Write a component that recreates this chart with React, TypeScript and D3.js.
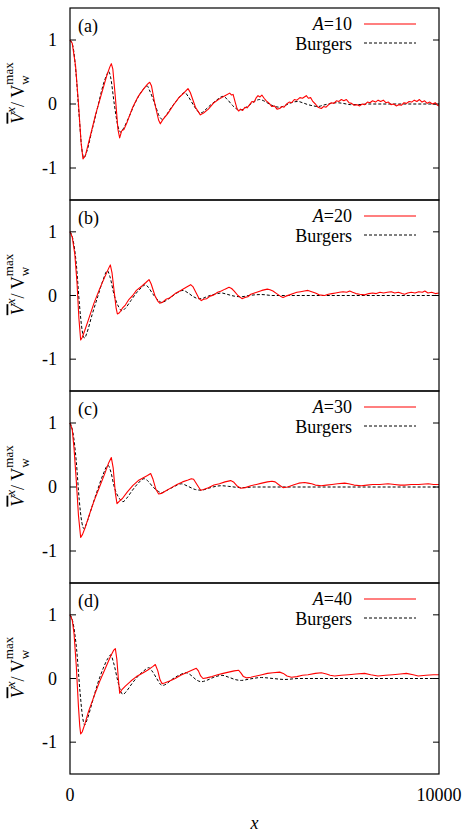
import React from "react";
import * as d3 from "d3";

type Pt = [number, number];

const panelLabels = ["(a)", "(b)", "(c)", "(d)"];
const aValues = [10, 20, 30, 40];
const yTicks = [-1, 0, 1];
const xTicks = [0, 10000];

// A=10 simulation (red) and Burgers solution (dashed)
const redA: Pt[] = [
  [0, 1.0], [60, 0.95], [150, 0.6], [230, 0.0], [300, -0.6], [352, -0.86], [420, -0.8],
  [550, -0.5], [700, -0.15], [850, 0.15], [1000, 0.45], [1080, 0.58], [1120, 0.63],
  [1160, 0.55], [1230, 0.1], [1300, -0.4], [1346, -0.53], [1400, -0.42], [1460, -0.4],
  [1550, -0.28], [1700, -0.05], [1850, 0.12], [2000, 0.24], [2100, 0.31], [2160, 0.34],
  [2210, 0.28], [2300, 0.0], [2400, -0.25], [2448, -0.31], [2520, -0.24], [2650, -0.15],
  [2800, -0.02], [2950, 0.1], [3100, 0.18], [3198, 0.24], [3260, 0.18], [3400, -0.05],
  [3532, -0.17], [3620, -0.14], [3750, -0.08], [3900, 0.02], [4050, 0.08], [4200, 0.13],
  [4327, 0.17], [4380, 0.14], [4420, 0.15], [4480, 0.02], [4530, -0.08], [4571, -0.11],
  [4620, -0.08], [4680, -0.1], [4740, -0.05], [4800, -0.06], [4870, -0.01], [4930, 0.04],
  [4990, 0.03], [5050, 0.1], [5095, 0.13], [5150, 0.11], [5200, 0.14], [5260, 0.09],
  [5320, 0.05], [5400, 0.01], [5470, -0.04], [5540, -0.03], [5610, -0.08], [5683, -0.07],
  [5740, -0.04], [5800, -0.05], [5870, 0.0], [5940, 0.03], [6010, 0.02], [6080, 0.07],
  [6150, 0.06], [6230, 0.1], [6300, 0.09], [6404, 0.13], [6460, 0.09], [6520, 0.1],
  [6580, 0.04], [6650, 0.0], [6720, -0.05], [6811, -0.07], [6870, -0.04], [6940, -0.05],
  [7010, -0.01], [7080, 0.02], [7150, 0.01], [7220, 0.05], [7290, 0.04], [7353, 0.07],
  [7420, 0.05], [7490, 0.07], [7560, 0.02], [7630, 0.01], [7700, -0.02], [7780, -0.01],
  [7850, -0.03], [7920, 0.0], [7990, -0.01], [8060, 0.03], [8130, 0.02], [8200, 0.05],
  [8280, 0.03], [8350, 0.06], [8420, 0.04], [8490, 0.06], [8560, 0.02], [8630, 0.03],
  [8700, -0.01], [8770, 0.0], [8840, -0.03], [8910, -0.01], [8980, -0.02], [9050, 0.02],
  [9120, 0.01], [9190, 0.04], [9260, 0.03], [9330, 0.06], [9400, 0.04], [9470, 0.07],
  [9540, 0.03], [9610, 0.05], [9680, 0.01], [9750, 0.03], [9820, 0.0], [9900, 0.02],
  [9960, -0.02], [10000, -0.03],
];
const burgersA: Pt[] = [
  [0, 1.0], [80, 0.9], [160, 0.5], [250, -0.2], [320, -0.7], [379, -0.84], [450, -0.75],
  [600, -0.4], [750, -0.05], [900, 0.3], [1000, 0.46], [1048, 0.51], [1100, 0.42],
  [1200, 0.0], [1300, -0.35], [1373, -0.44], [1450, -0.38], [1600, -0.2], [1750, 0.0],
  [1900, 0.16], [2000, 0.24], [2096, 0.28], [2150, 0.22], [2300, 0.0], [2420, -0.19],
  [2502, -0.24], [2600, -0.18], [2750, -0.05], [2900, 0.06], [3000, 0.13], [3108, 0.18],
  [3200, 0.12], [3350, -0.02], [3470, -0.12], [3550, -0.14], [3650, -0.1], [3800, -0.02],
  [3950, 0.05], [4146, 0.12], [4250, 0.08], [4400, -0.02], [4530, -0.08], [4643, -0.09],
  [4750, -0.06], [4900, 0.0], [5000, 0.04], [5140, 0.07], [5250, 0.05], [5400, 0.0],
  [5550, -0.04], [5683, -0.05], [5800, -0.03], [5950, 0.01], [6050, 0.03], [6179, 0.04],
  [6300, 0.02], [6450, -0.01], [6600, -0.03], [6721, -0.04], [6850, -0.02], [7000, 0.0],
  [7217, 0.02], [7400, 0.01], [7600, -0.01], [7804, -0.01], [8100, 0.0], [10000, 0.0],
];

const redB: Pt[] = [
  [0, 1.0], [60, 0.92], [130, 0.65], [190, 0.2], [240, -0.35], [289, -0.7], [330, -0.66],
  [400, -0.55], [500, -0.38], [650, -0.12], [800, 0.1], [950, 0.3], [1050, 0.43],
  [1093, 0.48], [1140, 0.35], [1200, 0.05], [1250, -0.2], [1283, -0.29], [1340, -0.27],
  [1420, -0.2], [1500, -0.15], [1600, -0.06], [1700, 0.0], [1800, 0.08], [1950, 0.15],
  [2050, 0.2], [2141, 0.25], [2200, 0.18], [2300, 0.0], [2380, -0.09], [2430, -0.12],
  [2500, -0.11], [2600, -0.06], [2700, -0.04], [2850, 0.03], [3000, 0.08], [3150, 0.13],
  [3270, 0.17], [3330, 0.14], [3420, 0.04], [3500, -0.05], [3559, -0.08], [3620, -0.06],
  [3700, -0.05], [3800, -0.01], [3900, 0.01], [4000, 0.05], [4100, 0.07], [4200, 0.1],
  [4309, 0.13], [4380, 0.11], [4450, 0.07], [4550, 0.0], [4661, -0.05], [4740, -0.03],
  [4820, -0.02], [4900, 0.02], [5000, 0.04], [5100, 0.06], [5200, 0.08], [5348, 0.1],
  [5420, 0.09], [5500, 0.07], [5600, 0.03], [5700, -0.01], [5774, -0.03], [5850, -0.01],
  [5950, 0.01], [6050, 0.03], [6150, 0.05], [6250, 0.06], [6350, 0.07], [6450, 0.08],
  [6550, 0.06], [6650, 0.04], [6750, 0.01], [6901, 0.0], [7000, 0.02], [7100, 0.03],
  [7200, 0.04], [7300, 0.05], [7400, 0.06], [7500, 0.05], [7580, 0.07], [7660, 0.05],
  [7750, 0.03], [7850, 0.02], [7985, 0.01], [8100, 0.03], [8200, 0.04], [8300, 0.03],
  [8400, 0.05], [8500, 0.04], [8600, 0.05], [8708, 0.06], [8800, 0.04], [8900, 0.05],
  [9000, 0.03], [9070, 0.02], [9150, 0.04], [9250, 0.05], [9350, 0.04], [9450, 0.06],
  [9550, 0.05], [9617, 0.07], [9700, 0.04], [9800, 0.05], [9900, 0.03], [10000, 0.04],
];
const burgersB: Pt[] = [
  [0, 1.0], [80, 0.88], [170, 0.5], [250, -0.1], [330, -0.55], [397, -0.67], [450, -0.6],
  [600, -0.3], [750, -0.02], [900, 0.25], [1012, 0.39], [1080, 0.3], [1200, 0.0],
  [1320, -0.18], [1409, -0.24], [1500, -0.2], [1650, -0.08], [1800, 0.04], [1950, 0.13],
  [2042, 0.17], [2120, 0.13], [2250, 0.02], [2400, -0.08], [2493, -0.11], [2600, -0.08],
  [2750, -0.02], [2900, 0.04], [3062, 0.08], [3200, 0.04], [3350, -0.02], [3480, -0.05],
  [3559, -0.05], [3700, -0.02], [3850, 0.01], [4000, 0.03], [4101, 0.04], [4250, 0.02],
  [4450, -0.01], [4643, -0.02], [4850, 0.0], [5185, 0.015], [5500, 0.0], [10000, 0.0],
];

const redC: Pt[] = [
  [0, 1.0], [60, 0.9], [110, 0.6], [170, 0.1], [230, -0.45], [289, -0.79], [340, -0.74],
  [420, -0.62], [520, -0.44], [650, -0.22], [800, 0.0], [950, 0.22], [1050, 0.38],
  [1120, 0.46], [1170, 0.3], [1230, -0.1], [1274, -0.26], [1340, -0.22], [1420, -0.18],
  [1550, -0.08], [1700, 0.02], [1850, 0.1], [2000, 0.15], [2100, 0.18], [2186, 0.21],
  [2250, 0.12], [2330, -0.04], [2403, -0.11], [2480, -0.1], [2600, -0.06], [2750, -0.01],
  [2900, 0.04], [3050, 0.08], [3200, 0.11], [3288, 0.13], [3350, 0.12], [3440, 0.04],
  [3541, -0.05], [3620, -0.04], [3750, -0.01], [3900, 0.03], [4050, 0.05], [4200, 0.08],
  [4354, 0.1], [4430, 0.08], [4520, 0.02], [4625, -0.02], [4750, -0.01], [4900, 0.02],
  [5050, 0.04], [5200, 0.06], [5350, 0.08], [5474, 0.09], [5560, 0.08], [5650, 0.04],
  [5774, -0.01], [5900, 0.0], [6050, 0.03], [6200, 0.06], [6359, 0.07], [6450, 0.06],
  [6550, 0.05], [6650, 0.03], [6811, 0.02], [6950, 0.03], [7100, 0.04], [7250, 0.05],
  [7443, 0.06], [7550, 0.05], [7700, 0.03], [7894, 0.02], [8050, 0.03], [8200, 0.04],
  [8400, 0.04], [8618, 0.05], [8800, 0.04], [8950, 0.03], [9070, 0.03], [9250, 0.04],
  [9450, 0.04], [9707, 0.05], [9850, 0.04], [10000, 0.04],
];
const burgersC: Pt[] = [
  [0, 1.0], [80, 0.85], [170, 0.4], [250, -0.2], [320, -0.55], [379, -0.65], [440, -0.58],
  [600, -0.3], [750, -0.04], [900, 0.2], [1030, 0.34], [1100, 0.25], [1200, 0.0],
  [1340, -0.18], [1436, -0.23], [1530, -0.18], [1680, -0.06], [1850, 0.06], [2005, 0.13],
  [2100, 0.1], [2250, 0.0], [2400, -0.07], [2475, -0.09], [2600, -0.06], [2800, 0.0],
  [3017, 0.05], [3200, 0.01], [3400, -0.04], [3559, -0.05], [3750, -0.02], [3950, 0.01],
  [4101, 0.02], [4300, 0.01], [4643, -0.01], [5000, 0.0], [10000, 0.0],
];

const redD: Pt[] = [
  [0, 1.0], [60, 0.92], [110, 0.7], [170, 0.2], [230, -0.45], [265, -0.75], [289, -0.87],
  [330, -0.84], [400, -0.72], [500, -0.52], [650, -0.28], [800, -0.05], [950, 0.15],
  [1100, 0.35], [1180, 0.44], [1229, 0.47], [1270, 0.3], [1310, 0.0], [1346, -0.23],
  [1400, -0.18], [1500, -0.12], [1650, -0.04], [1800, 0.03], [1950, 0.08], [2100, 0.13],
  [2250, 0.19], [2312, 0.22], [2380, 0.12], [2440, -0.02], [2493, -0.08], [2560, -0.07],
  [2700, -0.04], [2850, 0.0], [3000, 0.05], [3150, 0.09], [3300, 0.13], [3423, 0.16],
  [3480, 0.12], [3540, 0.04], [3604, 0.0], [3700, 0.01], [3850, 0.03], [4000, 0.06],
  [4150, 0.08], [4300, 0.1], [4450, 0.12], [4571, 0.13], [4640, 0.08], [4700, 0.03],
  [4779, 0.01], [4900, 0.02], [5050, 0.04], [5200, 0.06], [5350, 0.08], [5500, 0.09],
  [5683, 0.1], [5780, 0.08], [5880, 0.04], [5999, 0.02], [6150, 0.03], [6300, 0.05],
  [6450, 0.06], [6650, 0.08], [6811, 0.09], [6950, 0.07], [7050, 0.05], [7172, 0.04],
  [7350, 0.05], [7550, 0.06], [7750, 0.07], [7985, 0.08], [8150, 0.06], [8347, 0.04],
  [8550, 0.05], [8750, 0.06], [8950, 0.07], [9115, 0.08], [9300, 0.06], [9436, 0.04],
  [9650, 0.05], [9850, 0.06], [10000, 0.06],
];
const burgersD: Pt[] = [
  [0, 1.0], [80, 0.88], [180, 0.45], [270, -0.2], [340, -0.6], [397, -0.73], [460, -0.65],
  [600, -0.38], [750, -0.08], [900, 0.16], [1020, 0.31], [1102, 0.37], [1180, 0.25],
  [1300, -0.05], [1380, -0.21], [1436, -0.25], [1530, -0.2], [1680, -0.08], [1850, 0.04],
  [2000, 0.12], [2132, 0.17], [2220, 0.12], [2350, 0.0], [2450, -0.09], [2493, -0.11],
  [2600, -0.09], [2750, -0.02], [2950, 0.05], [3153, 0.09], [3280, 0.05], [3420, -0.02],
  [3559, -0.05], [3700, -0.03], [3900, 0.02], [4120, 0.05], [4300, 0.02], [4500, -0.02],
  [4643, -0.03], [4850, -0.01], [5185, 0.015], [5500, 0.0], [5819, -0.015], [6200, 0.0],
  [10000, 0.0],
];

const redSeries = [redA, redB, redC, redD];
const burgersSeries = [burgersA, burgersB, burgersC, burgersD];

const FONT = "Liberation Serif, Times New Roman, DejaVu Serif, serif";

export default function App() {
  const width = 467, height = 833;
  const left = 70, right = 439, top = 8, bottom = 774;
  const ph = (bottom - top) / 4;
  const fs = 18;

  const x = d3.scaleLinear().domain([0, 10000]).range([left, right]);
  const tstyle = { fontFamily: FONT };

  return (
    <svg width={width} height={height} style={{ position: "absolute", left: 0, top: 0, background: "#fff", fontFamily: FONT }}>
      {panelLabels.map((lab, i) => {
        const y0 = Math.round(top + i * ph);
        const y1 = Math.round(top + (i + 1) * ph);
        const y = d3.scaleLinear().domain([-1.5, 1.5]).range([y1, y0]);
        const redLine = d3.line<Pt>().x(d => x(d[0])).y(d => y(d[1]));
        const burgersLine = d3.line<Pt>().x(d => x(d[0])).y(d => y(d[1])).curve(d3.curveMonotoneX);
        const cy = (y0 + y1) / 2 - 11;
        return (
          <g key={lab}>
            {yTicks.map(t => (
              <g key={t}>
                <line x1={left} x2={left + 6} y1={y(t)} y2={y(t)} stroke="#000" />
                <line x1={right} x2={right - 6} y1={y(t)} y2={y(t)} stroke="#000" />
                <text x={57} y={y(t) + 6} fontSize={fs} textAnchor="end" style={tstyle}>{t}</text>
              </g>
            ))}
            <path d={burgersLine(burgersSeries[i]) || ""} fill="none" stroke="#000" strokeWidth={1}
              strokeDasharray="3,2" />
            <path d={redLine(redSeries[i]) || ""} fill="none" stroke="#ff0000" strokeWidth={1.1}
              strokeLinejoin="round" />
            <rect x={left} y={y0} width={right - left} height={y1 - y0} fill="none" stroke="#000" strokeWidth={1.2} />
            <text x={78} y={y0 + 24} fontSize={fs} style={tstyle}>{lab}</text>
            <text x={352} y={y0 + 22} fontSize={fs} textAnchor="end" style={tstyle}>
              <tspan fontStyle="italic">A</tspan>={aValues[i]}
            </text>
            <line x1={364} x2={416} y1={y0 + 16} y2={y0 + 16} stroke="#ff0000" strokeWidth={1.2} />
            <text x={352} y={y0 + 42} fontSize={fs} textAnchor="end" style={tstyle}>Burgers</text>
            <line x1={364} x2={416} y1={y0 + 35} y2={y0 + 35} stroke="#000" strokeDasharray="3,2" />
            <g transform={`translate(23.5, ${cy}) rotate(-90)`}>
              <text fontSize={18} textAnchor="middle" style={tstyle}>
                <tspan fontStyle="italic" style={{ textDecoration: "overline" }}>V</tspan>
                <tspan fontSize={13} fontStyle="italic" dy={-9}>x</tspan>
                <tspan dy={9}>/ V</tspan>
                <tspan fontSize={13} dy={5}>w</tspan>
                <tspan fontSize={13} dx={-9.4} dy={-16}>max</tspan>
              </text>
            </g>
          </g>
        );
      })}
      {xTicks.map(t => (
        <text key={t} x={x(t)} y={801} fontSize={fs} textAnchor="middle" style={tstyle}>{t}</text>
      ))}
      <text x={(left + right) / 2} y={829} fontSize={fs} fontStyle="italic" textAnchor="middle" style={tstyle}>x</text>
    </svg>
  );
}
